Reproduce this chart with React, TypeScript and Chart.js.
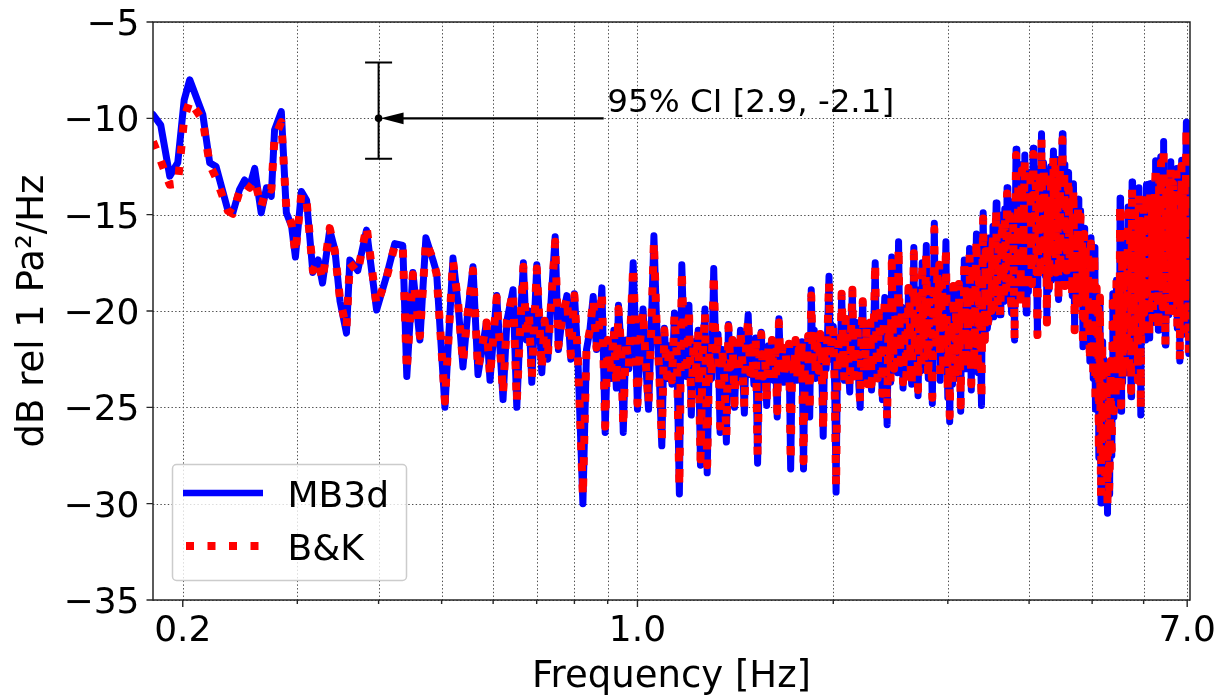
import { useEffect, useRef } from "react";
import { Chart, registerables } from "chart.js";

Chart.register(...registerables);

const WIDTH = 1225;
const HEIGHT = 698;
const FONT = '"DejaVu Sans", sans-serif';

// Frequency bins (Hz) shared by both spectra
const freqHz = [
  0.18, 0.185, 0.191, 0.1965, 0.201, 0.205, 0.2147, 0.22, 0.225, 0.2346,
  0.2388, 0.2445, 0.249, 0.2534, 0.258, 0.264, 0.269, 0.2736, 0.2768, 0.2835,
  0.2886, 0.294, 0.298, 0.3044, 0.31, 0.317, 0.323, 0.328, 0.3365, 0.3426,
  0.349, 0.357, 0.3613, 0.3716, 0.3833, 0.3972, 0.4113, 0.4236, 0.4358,
  0.442, 0.4516, 0.463, 0.4729, 0.4849, 0.4912, 0.5059, 0.5205, 0.5298, 0.5392,
  0.548, 0.5587, 0.5687, 0.5789, 0.586, 0.5934, 0.6077, 0.6214, 0.63, 0.6438,
  0.6524, 0.66, 0.6678, 0.675, 0.681, 0.688, 0.7003, 0.7128, 0.72, 0.728,
  0.735, 0.7473, 0.756, 0.765, 0.7789, 0.79, 0.8, 0.81, 0.8244, 0.835,
  0.845, 0.855, 0.865, 0.875, 0.8818, 0.892, 0.9, 0.91, 0.92, 0.928,
  0.935, 0.944, 0.951, 0.96, 0.97, 0.985, 0.993,
  1, 1.01, 1.02, 1.03, 1.04, 1.05, 1.06, 1.07, 1.08, 1.09,
  1.1, 1.11, 1.12, 1.13, 1.14, 1.15, 1.16, 1.17, 1.18, 1.19,
  1.2, 1.21, 1.22, 1.23, 1.24, 1.25, 1.26, 1.27, 1.28, 1.29,
  1.3, 1.31, 1.32, 1.33, 1.34, 1.35, 1.36, 1.37, 1.38, 1.39,
  1.4, 1.41, 1.42, 1.43, 1.44, 1.45, 1.46, 1.47, 1.48, 1.49,
  1.5, 1.51, 1.52, 1.53, 1.54, 1.55, 1.56, 1.57, 1.58, 1.59,
  1.6, 1.61, 1.62, 1.63, 1.64, 1.65, 1.66, 1.67, 1.68, 1.69,
  1.7, 1.71, 1.72, 1.73, 1.74, 1.75, 1.76, 1.77, 1.78, 1.79,
  1.8, 1.81, 1.82, 1.83, 1.84, 1.85, 1.86, 1.87, 1.88, 1.89,
  1.9, 1.91, 1.92, 1.93, 1.94, 1.95, 1.96, 1.97, 1.98, 1.99,
  2, 2.01, 2.02, 2.03, 2.04, 2.05, 2.06, 2.07, 2.08, 2.09,
  2.1, 2.11, 2.12, 2.13, 2.14, 2.15, 2.16, 2.17, 2.18, 2.19,
  2.2, 2.21, 2.22, 2.23, 2.24, 2.25, 2.26, 2.27, 2.28, 2.29,
  2.3, 2.31, 2.32, 2.33, 2.34, 2.35, 2.36, 2.37, 2.38, 2.39,
  2.4, 2.41, 2.42, 2.43, 2.44, 2.45, 2.46, 2.47, 2.48, 2.49,
  2.5, 2.51, 2.52, 2.53, 2.54, 2.55, 2.56, 2.57, 2.58, 2.59,
  2.6, 2.61, 2.62, 2.63, 2.64, 2.65, 2.66, 2.67, 2.68, 2.69,
  2.7, 2.71, 2.72, 2.73, 2.74, 2.75, 2.76, 2.77, 2.78, 2.79,
  2.8, 2.81, 2.82, 2.83, 2.84, 2.85, 2.86, 2.87, 2.88, 2.89,
  2.9, 2.91, 2.92, 2.93, 2.94, 2.95, 2.96, 2.97, 2.98, 2.99,
  3, 3.01, 3.02, 3.03, 3.04, 3.05, 3.06, 3.07, 3.08, 3.09,
  3.1, 3.11, 3.12, 3.13, 3.14, 3.15, 3.16, 3.17, 3.18, 3.19,
  3.2, 3.21, 3.22, 3.23, 3.24, 3.25, 3.26, 3.27, 3.28, 3.29,
  3.3, 3.31, 3.32, 3.33, 3.34, 3.35, 3.36, 3.37, 3.38, 3.39,
  3.4, 3.41, 3.42, 3.43, 3.44, 3.45, 3.46, 3.47, 3.48, 3.49,
  3.5, 3.51, 3.52, 3.53, 3.54, 3.55, 3.56, 3.57, 3.58, 3.59,
  3.6, 3.61, 3.62, 3.63, 3.64, 3.65, 3.66, 3.67, 3.68, 3.69,
  3.7, 3.71, 3.72, 3.73, 3.74, 3.75, 3.76, 3.77, 3.78, 3.79,
  3.8, 3.81, 3.82, 3.83, 3.84, 3.85, 3.86, 3.87, 3.88, 3.89,
  3.9, 3.91, 3.92, 3.93, 3.94, 3.95, 3.96, 3.97, 3.98, 3.99,
  4, 4.01, 4.02, 4.03, 4.04, 4.05, 4.06, 4.07, 4.08, 4.09,
  4.1, 4.11, 4.12, 4.13, 4.14, 4.15, 4.16, 4.17, 4.18, 4.19,
  4.2, 4.21, 4.22, 4.23, 4.24, 4.25, 4.26, 4.27, 4.28, 4.29,
  4.3, 4.31, 4.32, 4.33, 4.34, 4.35, 4.36, 4.37, 4.38, 4.39,
  4.4, 4.41, 4.42, 4.43, 4.44, 4.45, 4.46, 4.47, 4.48, 4.49,
  4.5, 4.51, 4.52, 4.53, 4.54, 4.55, 4.56, 4.57, 4.58, 4.59,
  4.6, 4.61, 4.62, 4.63, 4.64, 4.65, 4.66, 4.67, 4.68, 4.69,
  4.7, 4.71, 4.72, 4.73, 4.74, 4.75, 4.76, 4.77, 4.78, 4.79,
  4.8, 4.81, 4.82, 4.83, 4.84, 4.85, 4.86, 4.87, 4.88, 4.89,
  4.9, 4.91, 4.92, 4.93, 4.94, 4.95, 4.96, 4.97, 4.98, 4.99,
  5, 5.01, 5.02, 5.03, 5.04, 5.05, 5.06, 5.07, 5.08, 5.09,
  5.1, 5.11, 5.12, 5.13, 5.14, 5.15, 5.16, 5.17, 5.18, 5.19,
  5.2, 5.21, 5.22, 5.23, 5.24, 5.25, 5.26, 5.27, 5.28, 5.29,
  5.3, 5.31, 5.32, 5.33, 5.34, 5.35, 5.36, 5.37, 5.38, 5.39,
  5.4, 5.41, 5.42, 5.43, 5.44, 5.45, 5.46, 5.47, 5.48, 5.49,
  5.5, 5.51, 5.52, 5.53, 5.54, 5.55, 5.56, 5.57, 5.58, 5.59,
  5.6, 5.61, 5.62, 5.63, 5.64, 5.65, 5.66, 5.67, 5.68, 5.69,
  5.7, 5.71, 5.72, 5.73, 5.74, 5.75, 5.76, 5.77, 5.78, 5.79,
  5.8, 5.81, 5.82, 5.83, 5.84, 5.85, 5.86, 5.87, 5.88, 5.89,
  5.9, 5.91, 5.92, 5.93, 5.94, 5.95, 5.96, 5.97, 5.98, 5.99,
  6, 6.01, 6.02, 6.03, 6.04, 6.05, 6.06, 6.07, 6.08, 6.09,
  6.1, 6.11, 6.12, 6.13, 6.14, 6.15, 6.16, 6.17, 6.18, 6.19,
  6.2, 6.21, 6.22, 6.23, 6.24, 6.25, 6.26, 6.27, 6.28, 6.29,
  6.3, 6.31, 6.32, 6.33, 6.34, 6.35, 6.36, 6.37, 6.38, 6.39,
  6.4, 6.41, 6.42, 6.43, 6.44, 6.45, 6.46, 6.47, 6.48, 6.49,
  6.5, 6.51, 6.52, 6.53, 6.54, 6.55, 6.56, 6.57, 6.58, 6.59,
  6.6, 6.61, 6.62, 6.63, 6.64, 6.65, 6.66, 6.67, 6.68, 6.69,
  6.7, 6.71, 6.72, 6.73, 6.74, 6.75, 6.76, 6.77, 6.78, 6.79,
  6.8, 6.81, 6.82, 6.83, 6.84, 6.85, 6.86, 6.87, 6.88, 6.89,
  6.9, 6.91, 6.92, 6.93, 6.94, 6.95, 6.96, 6.97, 6.98, 6.99,
  7, 7.01, 7.02, 7.03, 7.04, 7.05, 7.06,
];

// MB3d spectrum, dB rel 1 Pa²/Hz
const mb3dDb = [
  -9.8, -10.35, -13.0, -12.3, -9.05, -8.0, -9.8, -12.3, -12.5, -14.76,
  -14.9, -13.7, -13.2, -13.55, -12.6, -14.9, -13.6, -14.05, -10.6, -9.65,
  -14.9, -15.6, -17.2, -13.8, -14.25, -18.0, -17.35, -18.55, -15.8, -16.8,
  -19.5, -21.15, -17.35, -17.9, -15.8, -19.95, -18.2, -16.5, -16.6,
  -23.4, -18.0, -21.5, -16.2, -17.35, -18.0, -25.0, -17.25, -19.6, -22.9,
  -20.2, -17.7, -23.3, -21.7, -20.6, -23.6, -19.2, -24.6, -20.5, -18.9,
  -25.0, -21.0, -17.5, -21.5, -20.0, -23.7, -17.6, -23.2, -20.5, -22.5,
  -20.0, -16.15, -22.0, -20.5, -19.2, -22.5, -19.1, -22.5, -30.0, -22.0,
  -21.0, -19.25, -22.0, -20.5, -18.8, -26.3, -21.5, -23.5, -21.0, -24.0,
  -19.7, -22.0, -26.3, -21.5, -23.0, -17.5, -21.0,
  -25.1, -21.5, -19.9, -22.8, -25.1, -21.0, -16.1, -20.5, -23.2, -27.0,
  -20.9, -23.5, -21.8, -23.8, -20.1, -22.5, -29.5, -17.6, -22.0, -23.4,
  -19.7, -25.4, -21.6, -23.2, -21.0, -28.0, -22.4, -19.9, -28.4, -22.0,
  -23.5, -17.8, -22.6, -21.2, -26.3, -22.0, -23.6, -26.8, -20.7, -23.0,
  -21.5, -25.0, -22.2, -23.4, -21.0, -22.8, -25.3, -21.6, -20.2, -23.3,
  -21.9, -23.8, -21.4, -27.9, -22.5, -21.1, -23.5, -22.0, -24.9, -21.8,
  -23.2, -21.5, -23.6, -22.1, -25.5, -20.4, -23.0, -21.9, -23.7, -22.2,
  -23.3, -21.7, -28.2, -22.5, -23.4, -21.5, -23.6, -22.0, -23.1, -21.6,
  -28.2, -22.4, -23.0, -21.3, -25.5, -18.9, -22.6, -21.0, -23.5, -21.8,
  -23.2, -21.2, -22.9, -26.5, -21.6, -23.0, -21.2, -18.2, -22.5, -21.4,
  -20.8, -23.9, -29.4, -22.6, -21.5, -23.0, -19.1, -21.7, -23.6, -20.4,
  -21.2, -22.7, -24.2, -21.0, -18.9, -23.4, -22.8, -20.6, -21.0, -23.9,
  -25.0, -21.3, -19.5, -23.1, -22.4, -20.8, -23.8, -22.0, -20.6, -24.1,
  -22.9, -20.4, -17.5, -21.9, -23.5, -20.1, -21.4, -22.8, -24.6, -20.9,
  -19.3, -22.6, -25.9, -21.4, -20.8, -23.7, -17.2, -21.6, -23.0, -20.0,
  -21.5, -23.2, -16.4, -21.1, -22.7, -19.8, -24.0, -21.9, -20.3, -23.4,
  -22.5, -18.8, -19.6, -22.9, -23.8, -20.5, -16.7, -22.1, -21.9, -18.9,
  -24.4, -21.2, -19.0, -23.1, -17.5, -20.8, -22.6, -19.4, -16.6, -21.7,
  -23.5, -18.7, -20.2, -22.4, -24.8, -19.9, -15.45, -21.3, -22.0, -18.1,
  -20.5, -17.6, -23.6, -20.9, -18.4, -22.7, -22.3, -19.2, -16.4, -21.5,
  -24.5, -20.6, -25.75, -22.2, -21.2, -23.8, -18.7, -21.6, -23.4, -19.9,
  -21.0, -23.5, -18.6, -21.8, -25.2, -19.7, -20.8, -22.9, -17.35, -21.4,
  -23.0, -18.9, -20.4, -22.6, -16.75, -21.0, -24.1, -18.2, -19.5, -22.4,
  -21.8, -18.4, -16.0, -21.5, -23.2, -17.9, -19.0, -22.3, -24.9, -18.6,
  -14.9, -18.8, -21.5, -16.6, -18.2, -20.9, -20.5, -17.1, -16.2, -19.6,
  -20.0, -17.4, -15.6, -20.3, -19.2, -16.5, -14.4, -18.1, -19.8, -15.9,
  -16.8, -20.2, -18.9, -15.8, -15.0, -18.6, -19.5, -14.7, -16.2, -19.1,
  -13.6, -17.2, -18.4, -14.3, -15.4, -19.3, -20.1, -16.0, -14.6, -18.8,
  -21.5, -15.1, -11.6, -16.4, -17.8, -13.1, -14.2, -18.3, -19.4, -14.9,
  -12.4, -17.6, -16.5, -13.6, -11.9, -18.0, -20.1, -15.5, -14.8, -19.0,
  -17.2, -14.1, -12.8, -16.9, -18.6, -13.9, -11.55, -17.3, -16.0, -12.9,
  -13.4, -18.5, -21.25, -16.3, -15.1, -12.6, -17.6, -14.4, -10.8, -15.6,
  -16.4, -12.3, -13.0, -17.1, -18.2, -14.6, -20.6, -15.3, -14.0, -18.9,
  -16.8, -13.7, -12.5, -18.4, -17.5, -13.5, -11.7, -16.9, -15.8, -12.1,
  -18.0, -14.9, -13.2, -17.0, -19.4, -15.0, -12.2, -18.1, -16.5, -12.7,
  -10.8, -14.1, -15.2, -12.4, -18.7, -15.8, -13.6, -17.9, -16.9, -12.9,
  -12.8, -16.1, -17.4, -13.6, -14.5, -18.0, -19.2, -14.9, -13.4, -17.3,
  -21.0, -16.8, -15.6, -19.5, -18.1, -14.9, -14.2, -17.7, -19.6, -15.3,
  -14.8, -19.1, -17.0, -15.9, -21.85, -17.8, -15.7, -20.4, -19.0, -16.3,
  -16.4, -19.7, -21.2, -16.9, -17.5, -20.8, -22.6, -18.3, -16.2, -21.9,
  -20.4, -17.5, -23.5, -21.0, -16.7, -22.2, -25.1, -20.6, -18.8, -24.0,
  -22.4, -19.9, -27.6, -23.8, -19.3, -25.9, -29.96, -24.8, -21.6, -27.9,
  -26.2, -22.5, -23.4, -27.4, -29.2, -25.6, -23.0, -28.1, -30.5, -26.0,
  -24.2, -29.5, -28.8, -25.3, -22.6, -26.9, -27.5, -23.4, -19.1, -24.4,
  -25.5, -21.7, -19.1, -24.9, -23.8, -18.4, -20.6, -23.1, -24.6, -20.3,
  -18.6, -22.4, -14.15, -19.8, -25.2, -21.0, -17.4, -23.7, -21.4, -16.9,
  -16.5, -21.3, -23.2, -18.8, -17.8, -22.1, -20.5, -16.7, -14.6, -20.9,
  -22.8, -17.9, -16.0, -21.6, -24.45, -18.3, -13.3, -17.1, -20.2, -15.6,
  -22.0, -17.2, -14.4, -20.7, -19.6, -14.9, -16.9, -21.2, -23.6, -17.0,
  -13.6, -19.3, -18.5, -14.7, -25.4, -19.9, -15.3, -18.0, -20.8, -14.9,
  -14.2, -20.1, -17.9, -15.2, -21.5, -16.6, -13.45, -19.4, -18.2, -14.1,
  -15.1, -19.0, -21.4, -16.3, -13.4, -18.8, -17.4, -13.9, -14.6, -20.0,
  -20.6, -16.0, -13.5, -18.7, -16.8, -13.2, -12.2, -17.5, -19.2, -14.4,
  -14.8, -18.9, -21.0, -15.9, -12.6, -16.2, -17.7, -13.8, -12.0, -18.3,
  -16.2, -13.0, -19.8, -15.1, -11.2, -17.9, -15.4, -19.2, -21.76, -16.4,
  -13.3, -19.4, -17.0, -13.6, -14.0, -18.6, -20.2, -15.7, -12.8, -17.8,
  -12.25, -16.1, -18.4, -13.9, -15.6, -20.0, -13.1, -17.0, -19.6, -14.6,
  -14.3, -19.1, -16.8, -13.5, -12.6, -17.3, -20.9, -16.6, -14.9, -18.9,
  -17.6, -13.9, -22.6, -17.9, -15.3, -20.1, -12.17, -16.8, -18.7, -13.6,
  -14.0, -18.2, -21.2, -15.7, -13.2, -19.5, -16.5, -12.9, -10.2, -17.1,
  -19.4, -15.2, -14.6, -18.8, -22.2, -17.0, -15.8,
];

// B&K reference spectrum, dB rel 1 Pa²/Hz
const bkDb = [
  -11.2, -12.2, -13.45, -13.4, -10.0, -9.1, -10.1, -12.4, -13.1, -14.8,
  -14.95, -13.8, -13.4, -13.6, -13.2, -14.6, -13.6, -13.7, -11.0, -10.2,
  -14.7, -15.5, -17.0, -13.9, -14.3, -17.9, -17.4, -18.4, -15.7, -16.9,
  -19.4, -20.9, -17.5, -18.0, -15.6, -19.7, -18.3, -16.6, -16.7,
  -23.1, -18.1, -21.3, -16.4, -17.3, -18.1, -24.7, -17.4, -19.5, -22.7,
  -20.2, -17.9, -23.0, -21.6, -20.6, -23.4, -19.3, -24.3, -20.5, -19.0,
  -24.7, -21.0, -17.7, -21.4, -20.1, -23.5, -17.8, -23.0, -20.5, -22.4,
  -20.1, -16.4, -21.8, -20.5, -19.3, -22.3, -19.2, -22.4, -29.6, -21.9,
  -21.0, -19.4, -21.9, -20.5, -19.0, -26.0, -21.5, -23.3, -21.0, -23.8,
  -19.9, -22.0, -26.0, -21.5, -22.9, -17.7, -21.0,
  -24.8, -21.5, -20.0, -22.7, -24.8, -21.0, -16.4, -20.6, -23.1, -26.7,
  -21.0, -23.4, -21.8, -23.6, -20.2, -22.4, -29.1, -17.9, -22.0, -23.3,
  -19.9, -25.1, -21.6, -23.1, -21.0, -27.7, -22.3, -20.1, -28.0, -22.0,
  -23.4, -18.1, -22.5, -21.2, -26.0, -22.0, -23.5, -26.5, -20.8, -22.9,
  -21.5, -24.8, -22.2, -23.3, -21.0, -22.7, -25.0, -21.6, -20.4, -23.2,
  -21.9, -23.6, -21.4, -27.5, -22.4, -21.2, -23.4, -22.0, -24.7, -21.8,
  -23.1, -21.5, -23.5, -22.1, -25.2, -20.6, -22.9, -21.9, -23.5, -22.2,
  -23.2, -21.7, -27.8, -22.4, -23.3, -21.5, -23.5, -22.0, -23.0, -21.6,
  -27.8, -22.3, -22.9, -21.3, -25.2, -19.2, -22.5, -21.0, -23.4, -21.8,
  -23.1, -21.2, -22.8, -26.2, -21.6, -22.9, -21.2, -18.5, -22.4, -21.4,
  -20.8, -23.9, -29.1, -22.6, -21.5, -23.0, -19.1, -21.7, -23.6, -20.4,
  -21.2, -22.7, -23.9, -21.0, -18.9, -23.4, -22.8, -20.6, -21.0, -23.9,
  -24.7, -21.3, -19.5, -23.1, -22.4, -20.8, -23.8, -22.0, -20.6, -23.8,
  -22.9, -20.4, -17.5, -21.9, -23.5, -20.1, -21.4, -22.8, -24.3, -20.9,
  -19.3, -22.6, -25.6, -21.4, -20.8, -23.7, -17.5, -21.6, -23.0, -20.0,
  -21.5, -23.2, -16.7, -21.1, -22.7, -19.8, -23.7, -21.9, -20.3, -23.4,
  -22.5, -18.8, -19.6, -22.9, -23.8, -20.5, -17.0, -22.1, -21.9, -18.9,
  -24.1, -21.2, -19.0, -23.1, -17.5, -20.8, -22.6, -19.4, -16.9, -21.7,
  -23.5, -18.7, -20.2, -22.4, -24.5, -19.9, -15.75, -21.3, -22.0, -18.1,
  -20.5, -17.6, -23.6, -20.9, -18.4, -22.7, -22.3, -19.2, -16.7, -21.5,
  -24.2, -20.6, -25.45, -22.2, -21.2, -23.8, -18.7, -21.6, -23.4, -19.9,
  -21.0, -23.5, -18.6, -21.8, -24.9, -19.7, -20.8, -22.9, -17.35, -21.4,
  -23.0, -18.9, -20.4, -22.6, -17.05, -21.0, -23.8, -18.2, -19.5, -22.4,
  -21.8, -18.4, -16.3, -21.5, -23.2, -17.9, -19.0, -22.3, -24.6, -18.6,
  -15.2, -18.8, -21.5, -16.9, -18.2, -20.9, -20.5, -17.1, -16.5, -19.6,
  -20.0, -17.4, -15.9, -20.3, -19.2, -16.8, -14.7, -18.1, -19.8, -16.2,
  -17.1, -20.2, -18.9, -16.1, -15.3, -18.6, -19.5, -15.0, -16.5, -19.1,
  -13.9, -17.2, -18.4, -14.6, -15.7, -19.3, -20.1, -16.3, -14.9, -18.8,
  -21.5, -15.4, -11.9, -16.7, -17.8, -13.4, -14.5, -18.3, -19.4, -15.2,
  -12.7, -17.6, -16.8, -13.9, -12.2, -18.0, -20.1, -15.8, -15.1, -19.0,
  -17.2, -14.4, -13.1, -16.9, -18.6, -14.2, -11.85, -17.3, -16.3, -13.2,
  -13.7, -18.5, -21.25, -16.6, -15.4, -12.9, -17.6, -14.7, -11.1, -15.9,
  -16.7, -12.6, -13.3, -17.1, -18.2, -14.9, -20.6, -15.6, -14.3, -18.9,
  -17.1, -14.0, -12.8, -18.4, -17.5, -13.8, -12.0, -16.9, -16.1, -12.4,
  -18.0, -15.2, -13.5, -17.0, -19.4, -15.3, -12.5, -18.1, -16.8, -13.0,
  -11.1, -14.4, -15.5, -12.7, -18.7, -16.1, -13.9, -17.9, -16.9, -13.2,
  -13.1, -16.4, -17.4, -13.9, -14.8, -18.0, -19.2, -15.2, -13.7, -17.3,
  -21.0, -16.8, -15.9, -19.5, -18.1, -15.2, -14.5, -17.7, -19.6, -15.6,
  -15.1, -19.1, -17.0, -16.2, -21.85, -17.8, -16.0, -20.4, -19.0, -16.6,
  -16.7, -19.7, -21.2, -16.9, -17.5, -20.8, -22.6, -18.3, -16.5, -21.9,
  -20.4, -17.5, -23.5, -21.0, -17.0, -22.2, -24.8, -20.6, -18.8, -23.7,
  -22.4, -19.9, -27.3, -23.8, -19.3, -25.6, -29.66, -24.5, -21.6, -27.6,
  -25.9, -22.5, -23.4, -27.1, -28.9, -25.3, -23.0, -27.8, -30.2, -25.7,
  -23.9, -29.2, -28.5, -25.0, -22.6, -26.6, -27.2, -23.4, -19.1, -24.1,
  -25.2, -21.7, -19.1, -24.6, -23.8, -18.4, -20.6, -23.1, -24.3, -20.3,
  -18.6, -22.4, -14.45, -19.8, -24.9, -21.0, -17.4, -23.7, -21.4, -17.2,
  -16.8, -21.3, -23.2, -18.8, -17.8, -22.1, -20.5, -17.0, -14.9, -20.9,
  -22.8, -17.9, -16.3, -21.6, -24.15, -18.3, -13.6, -17.1, -20.2, -15.9,
  -22.0, -17.2, -14.7, -20.7, -19.6, -15.2, -17.2, -21.2, -23.6, -17.3,
  -13.9, -19.3, -18.5, -15.0, -25.1, -19.9, -15.6, -18.0, -20.8, -15.2,
  -14.5, -20.1, -17.9, -15.5, -21.5, -16.9, -13.75, -19.4, -18.2, -14.4,
  -15.4, -19.0, -21.4, -16.6, -13.7, -18.8, -17.4, -14.2, -14.9, -20.0,
  -20.6, -16.3, -13.8, -18.7, -17.1, -13.5, -12.5, -17.5, -19.2, -14.7,
  -15.1, -18.9, -21.0, -16.2, -12.9, -16.5, -17.7, -14.1, -12.3, -18.3,
  -16.5, -13.3, -19.8, -15.4, -11.5, -17.9, -15.7, -19.2, -21.76, -16.7,
  -13.6, -19.4, -17.3, -13.9, -14.3, -18.6, -20.2, -16.0, -13.1, -17.8,
  -12.55, -16.4, -18.4, -14.2, -15.9, -20.0, -13.4, -17.3, -19.6, -14.9,
  -14.6, -19.1, -17.1, -13.8, -12.9, -17.3, -20.9, -16.9, -15.2, -18.9,
  -17.6, -14.2, -22.6, -17.9, -15.6, -20.1, -12.47, -17.1, -18.7, -13.9,
  -14.3, -18.2, -21.2, -16.0, -13.5, -19.5, -16.8, -13.2, -10.5, -17.4,
  -19.4, -15.5, -14.9, -18.8, -22.2, -17.3, -16.1,
];

const seriesNames = ["MB3d", "B&K"];
const seriesColors = ["#0000ff", "#ff0000"];

const xRange = [0.18, 7.07];
const yRange = [-35, -5];
const xMajorTicks = [0.2, 1, 7];
const xMajorLabels = ["0.2", "1.0", "7.0"];
const xMinorTicks = [0.3, 0.4, 0.5, 0.6, 0.7, 0.8, 0.9, 2, 3, 4, 5, 6];
const yTicks = [-35, -30, -25, -20, -15, -10, -5];

const xTitle = "Frequency [Hz]";
const yTitle = "dB rel 1 Pa²/Hz";

// 95 % confidence interval marker and its callout
const ciFreq = 0.4;
const ciLevel = -10;
const ciUpper = 2.9;
const ciLower = 2.1;
const ciLabelFreq = 0.9;
const ciLabel = `95% CI [${ciUpper}, -${ciLower}]`;

const yTickText = (v: number) => (v < 0 ? "\u2212" + Math.abs(v) : String(v));

const decorPlugin = {
  id: "decor",
  beforeDatasetsDraw(chart: any) {
    const { ctx, chartArea: a, scales } = chart;
    const xs = scales.x;
    const ys = scales.y;
    ctx.save();
    ctx.strokeStyle = "#4d4d4d";
    ctx.lineWidth = 1;
    ctx.setLineDash([1.4, 2.3]);
    ctx.beginPath();
    for (const v of [...xMajorTicks, ...xMinorTicks]) {
      const px = Math.round(xs.getPixelForValue(v)) + 0.5;
      ctx.moveTo(px, a.top);
      ctx.lineTo(px, a.bottom);
    }
    for (const v of yTicks) {
      const py = Math.round(ys.getPixelForValue(v)) + 0.5;
      ctx.moveTo(a.left, py);
      ctx.lineTo(a.right, py);
    }
    ctx.stroke();
    ctx.restore();
  },
  afterDatasetsDraw(chart: any) {
    const { ctx, chartArea: a, scales } = chart;
    const xs = scales.x;
    const ys = scales.y;
    ctx.save();
    ctx.setLineDash([]);

    // axes frame
    ctx.strokeStyle = "#262626";
    ctx.lineWidth = 1.5;
    ctx.strokeRect(a.left, a.top, a.right - a.left, a.bottom - a.top);

    // tick marks
    ctx.lineWidth = 1.4;
    ctx.beginPath();
    for (const v of yTicks) {
      const py = ys.getPixelForValue(v);
      ctx.moveTo(a.left - 6.5, py);
      ctx.lineTo(a.left, py);
    }
    for (const v of xMajorTicks) {
      const px = xs.getPixelForValue(v);
      ctx.moveTo(px, a.bottom);
      ctx.lineTo(px, a.bottom + 7);
    }
    for (const v of xMinorTicks) {
      const px = xs.getPixelForValue(v);
      ctx.moveTo(px, a.bottom);
      ctx.lineTo(px, a.bottom + 4);
    }
    ctx.stroke();

    // tick labels
    ctx.fillStyle = "#000000";
    ctx.textBaseline = "alphabetic";
    ctx.font = `36px ${FONT}`;
    ctx.textAlign = "right";
    for (const v of yTicks) {
      ctx.fillText(yTickText(v), a.left - 13.5, ys.getPixelForValue(v) + 13);
    }
    ctx.textAlign = "center";
    xMajorTicks.forEach((v, i) => {
      ctx.fillText(xMajorLabels[i], xs.getPixelForValue(v), a.bottom + 40.5);
    });

    // axis titles
    ctx.font = `37px ${FONT}`;
    ctx.fillText(xTitle, (a.left + a.right) / 2, a.bottom + 87);
    ctx.save();
    ctx.translate(43, (a.top + a.bottom) / 2);
    ctx.rotate(-Math.PI / 2);
    ctx.fillText(yTitle, 0, 0);
    ctx.restore();

    // confidence interval bar with its arrowed label
    const cx = xs.getPixelForValue(ciFreq);
    const cy = ys.getPixelForValue(ciLevel);
    const yTop = ys.getPixelForValue(ciLevel + ciUpper);
    const yBot = ys.getPixelForValue(ciLevel - ciLower);
    ctx.strokeStyle = "#000000";
    ctx.lineWidth = 2;
    ctx.beginPath();
    ctx.moveTo(cx, yTop);
    ctx.lineTo(cx, yBot);
    ctx.moveTo(cx - 13.5, yTop);
    ctx.lineTo(cx + 13.5, yTop);
    ctx.moveTo(cx - 13.5, yBot);
    ctx.lineTo(cx + 13.5, yBot);
    ctx.stroke();
    ctx.beginPath();
    ctx.arc(cx, cy, 3.8, 0, Math.PI * 2);
    ctx.fill();

    const tx = xs.getPixelForValue(ciLabelFreq);
    const tip = cx + 2;
    ctx.lineWidth = 2.2;
    ctx.beginPath();
    ctx.moveTo(tx - 4, cy);
    ctx.lineTo(tip + 18, cy);
    ctx.stroke();
    ctx.beginPath();
    ctx.moveTo(tip, cy);
    ctx.lineTo(tip + 23, cy - 5.8);
    ctx.lineTo(tip + 23, cy + 5.8);
    ctx.closePath();
    ctx.fill();
    ctx.font = `32.6px ${FONT}`;
    ctx.textAlign = "left";
    ctx.fillText(ciLabel, tx - 0.5, cy - 6);

    // legend
    const lx = a.left + 19.5;
    const ly = a.bottom - 135.5;
    const lw = 234;
    const lh = 116;
    ctx.beginPath();
    if (typeof ctx.roundRect === "function") {
      ctx.roundRect(lx, ly, lw, lh, 4);
    } else {
      ctx.rect(lx, ly, lw, lh);
    }
    ctx.fillStyle = "rgba(255,255,255,0.8)";
    ctx.fill();
    ctx.strokeStyle = "#cccccc";
    ctx.lineWidth = 1.5;
    ctx.stroke();

    const row1 = ly + 28.5;
    const row2 = ly + 81.5;
    ctx.lineCap = "butt";
    ctx.strokeStyle = seriesColors[0];
    ctx.lineWidth = 6.5;
    ctx.beginPath();
    ctx.moveTo(a.left + 30, row1);
    ctx.lineTo(a.left + 110, row1);
    ctx.stroke();
    ctx.strokeStyle = seriesColors[1];
    ctx.lineWidth = 8;
    ctx.setLineDash([8, 13.5]);
    ctx.beginPath();
    ctx.moveTo(a.left + 33, row2);
    ctx.lineTo(a.left + 110, row2);
    ctx.stroke();
    ctx.setLineDash([]);

    ctx.fillStyle = "#000000";
    ctx.font = `36px ${FONT}`;
    ctx.textAlign = "left";
    ctx.fillText(seriesNames[0], a.left + 134.5, row1 + 14);
    ctx.fillText(seriesNames[1], a.left + 134.5, row2 + 14);

    ctx.restore();
  },
};

export default function App() {
  const canvasRef = useRef<HTMLCanvasElement | null>(null);

  useEffect(() => {
    const canvas = canvasRef.current;
    if (!canvas) return;
    const n = Math.min(freqHz.length, mb3dDb.length, bkDb.length);
    const points = (vals: number[]) =>
      freqHz.slice(0, n).map((f, i) => ({ x: f, y: vals[i] }));

    const chart = new Chart(canvas, {
      type: "line",
      data: {
        datasets: [
          {
            label: seriesNames[1],
            data: points(bkDb),
            borderColor: seriesColors[1],
            borderWidth: 8,
            borderDash: [8, 13.2],
            borderCapStyle: "butt",
            borderJoinStyle: "round",
            pointRadius: 0,
            tension: 0,
            fill: false,
            order: 0,
          },
          {
            label: seriesNames[0],
            data: points(mb3dDb),
            borderColor: seriesColors[0],
            borderWidth: 7,
            borderCapStyle: "round",
            borderJoinStyle: "round",
            pointRadius: 0,
            tension: 0,
            fill: false,
            order: 1,
          },
        ],
      },
      options: {
        animation: false,
        responsive: false,
        maintainAspectRatio: false,
        devicePixelRatio: 1,
        events: [],
        layout: { padding: { left: 0, top: 22, right: 35, bottom: 0 } },
        plugins: {
          legend: { display: false },
          tooltip: { enabled: false },
          title: { display: false },
        },
        scales: {
          x: {
            type: "logarithmic",
            min: xRange[0],
            max: xRange[1],
            grid: { display: false },
            border: { display: false },
            ticks: { display: false },
            afterFit: (s: any) => {
              s.height = 98;
            },
          },
          y: {
            type: "linear",
            min: yRange[0],
            max: yRange[1],
            grid: { display: false },
            border: { display: false },
            ticks: { display: false, stepSize: 5 },
            afterFit: (s: any) => {
              s.width = 153;
            },
          },
        },
      },
      plugins: [decorPlugin],
    } as any);

    return () => chart.destroy();
  }, []);

  return (
    <div
      style={{
        position: "absolute",
        left: 0,
        top: 0,
        width: WIDTH,
        height: HEIGHT,
        background: "#ffffff",
      }}
    >
      <canvas
        ref={canvasRef}
        width={WIDTH}
        height={HEIGHT}
        style={{ display: "block", width: WIDTH, height: HEIGHT }}
      />
    </div>
  );
}
